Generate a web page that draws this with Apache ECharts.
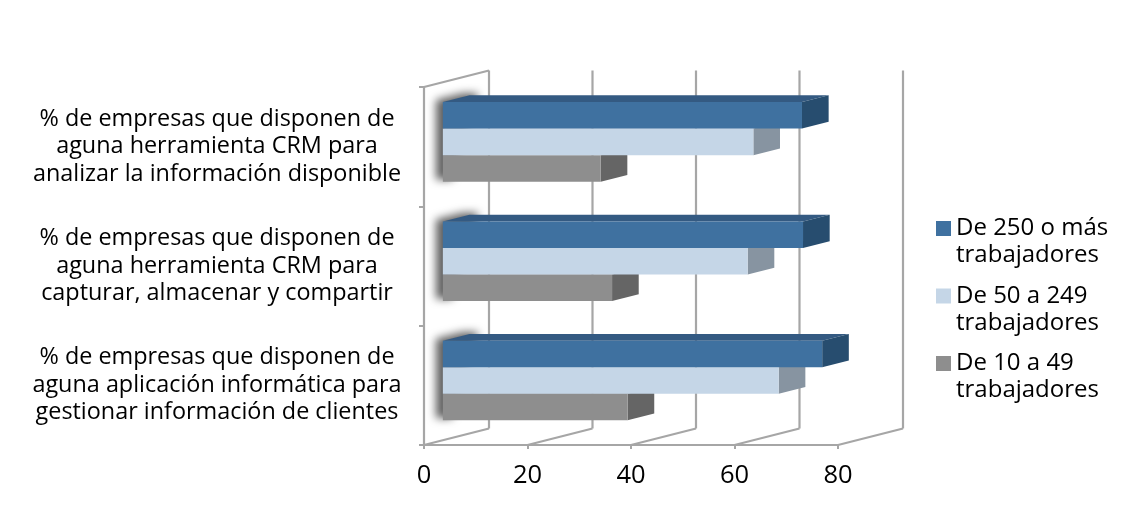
<!DOCTYPE html>
<html>
<head>
<meta charset="utf-8">
<script src="https://cdn.jsdelivr.net/npm/echarts@6/dist/echarts.min.js"></script>
<style>
  html, body { margin: 0; padding: 0; background: #ffffff; }
  #chart { width: 1129px; height: 518px; }
</style>
</head>
<body>
<div id="chart"></div>
<script>
// Categories, listed from the top of the chart downwards
const categories = [
  '% de empresas que disponen de\naguna herramienta CRM para\nanalizar la información disponible',
  '% de empresas que disponen de\naguna herramienta CRM para\ncapturar, almacenar y compartir',
  '% de empresas que disponen de\naguna aplicación informática para\ngestionar información de clientes'
];

// Company-size groups
const seriesNames = [
  'De 250 o más\ntrabajadores',
  'De 50 a 249\ntrabajadores',
  'De 10 a 49\ntrabajadores'
];

// Percentages per category (same order as categories)
const large = [69.4, 69.6, 73.3];
const medium = [60.0, 58.9, 64.9];
const small = [30.5, 32.7, 35.7];

// Value-axis ticks
const xTicks = [0, 20, 40, 60, 80];

// ---- 3D look ----
const WALL = [65, -16.5];   // offset from front plane to back wall
const BAR_FRONT = 0.29;     // where the bars' front faces sit in depth
const BAR_DEPTH = 0.41;     // bar thickness in depth
const LINE = '#a6a6a6';
const FONT = 'Open Sans';

const palettes = [
  { front: '#3f71a0', top: '#345a82', side: '#274d6f' },
  { front: '#c5d6e7', top: '#a9bccf', side: '#8794a1' },
  { front: '#8e8e8e', top: '#7a7a7a', side: '#656565' }
];

function groupBox(api, cat) {
  const p0 = api.coord([0, cat]);
  const band = api.size([0, 1])[1];
  const gh = band / 1.5;
  return {
    x0: p0[0] + WALL[0] * BAR_FRONT,
    yTop: p0[1] - gh / 2 + WALL[1] * BAR_FRONT,
    gh: gh,
    bh: gh / 3,
    dx: WALL[0] * BAR_DEPTH,
    dy: WALL[1] * BAR_DEPTH
  };
}

function barRenderer(slot, pal) {
  return function (params, api) {
    const cat = api.value(0);
    const val = api.value(1);
    const g = groupBox(api, cat);
    const xr = api.coord([val, cat])[0] + WALL[0] * BAR_FRONT;
    const xl = g.x0;
    const yt = g.yTop + slot * g.bh;
    const yb = yt + g.bh;
    return {
      type: 'group',
      children: [
        { type: 'polygon', shape: { points: [[xl, yt], [xl + g.dx, yt + g.dy], [xr + g.dx, yt + g.dy], [xr, yt]] }, style: { fill: pal.top } },
        { type: 'polygon', shape: { points: [[xr, yt], [xr + g.dx, yt + g.dy], [xr + g.dx, yb + g.dy], [xr, yb]] }, style: { fill: pal.side } },
        { type: 'rect', shape: { x: xl, y: yt, width: xr - xl, height: g.bh }, style: { fill: pal.front } }
      ]
    };
  };
}

// Back wall gridlines, floor lines and the side wall's top edge
function frameRenderer(params, api) {
  const v = api.value(0);
  const cs = params.coordSys;
  const x = api.coord([v, 0])[0];
  const top = cs.y, bottom = cs.y + cs.height;
  const ls = { stroke: LINE, lineWidth: 2.2 };
  const children = [
    { type: 'line', shape: { x1: x + WALL[0], y1: top + WALL[1], x2: x + WALL[0], y2: bottom + WALL[1] }, style: ls },
    { type: 'line', shape: { x1: x, y1: bottom, x2: x + WALL[0], y2: bottom + WALL[1] }, style: ls }
  ];
  if (v === xTicks[0]) {
    children.push({ type: 'line', shape: { x1: x, y1: top, x2: x + WALL[0], y2: top + WALL[1] }, style: ls });
  }
  return { type: 'group', children: children };
}

// Soft shadow along the left end of each bar group (shape drawn off-canvas, only its blur lands here)
const OFF = 3000;
function shadowRenderer(params, api) {
  const cat = api.value(0);
  const g = groupBox(api, cat);
  const yb = g.yTop + g.gh;
  const w = 16;
  const pts = [
    [g.x0, g.yTop], [g.x0 + g.dx, g.yTop + g.dy], [g.x0 + g.dx + w, g.yTop + g.dy],
    [g.x0 + w, yb], [g.x0, yb]
  ].map(p => [p[0] - 7 - OFF, p[1] - 2]);
  return {
    type: 'polygon',
    shape: { points: pts },
    style: { fill: '#000', shadowBlur: 8, shadowColor: 'rgba(0,0,0,0.62)', shadowOffsetX: OFF }
  };
}

const seriesValues = [large, medium, small];
const toData = arr => arr.map((v, i) => [i, v]);

const chart = echarts.init(document.getElementById('chart'), null, { renderer: 'canvas' });

const series = [
  {
    type: 'custom', name: 'frame', silent: true, z: 1,
    renderItem: frameRenderer,
    encode: { x: 0, y: 1 },
    data: xTicks.map(v => [v, 0])
  },
  {
    type: 'custom', name: 'shadow', silent: true, z: 2,
    renderItem: shadowRenderer,
    encode: { x: 1, y: 0 },
    data: categories.map((c, i) => [i, 0])
  }
];
// draw lower bars first so the upper bar's front face covers their hidden faces
for (let s = 2; s >= 0; s--) {
  series.push({
    type: 'custom', name: seriesNames[s], z: 3,
    itemStyle: { color: palettes[s].front },
    renderItem: barRenderer(s, palettes[s]),
    encode: { x: 1, y: 0 },
    data: toData(seriesValues[s])
  });
}

chart.setOption({
  animation: false,
  backgroundColor: '#ffffff',
  textStyle: { fontFamily: FONT },
  grid: { left: 424, top: 87, width: 414, height: 358, containLabel: false },
  xAxis: {
    type: 'value', min: 0, max: 80, interval: 20,
    axisLine: { show: true, lineStyle: { color: LINE, width: 2.2 } },
    axisTick: { show: true, length: 4, lineStyle: { color: LINE, width: 2 } },
    splitLine: { show: false },
    axisLabel: { color: '#000', fontSize: 25.5, margin: 18, fontFamily: FONT }
  },
  yAxis: {
    type: 'category', inverse: true, data: categories,
    axisLine: { show: true, lineStyle: { color: LINE, width: 2.2 } },
    axisTick: { show: true, length: 5, lineStyle: { color: LINE, width: 2 } },
    splitLine: { show: false },
    axisLabel: {
      color: '#000', fontSize: 23.4, lineHeight: 27.5, align: 'center', margin: 207,
      padding: [4, 0, 0, 0], fontFamily: FONT
    }
  },
  legend: {
    orient: 'vertical', left: 936, top: 188, padding: 0,
    itemWidth: 15, itemHeight: 15, itemGap: -13.5, icon: 'rect',
    data: seriesNames,
    formatter: name => '\n' + name,
    textStyle: { color: '#000', fontSize: 24, lineHeight: 27, fontFamily: FONT }
  },
  series: series
});
</script>
</body>
</html>
